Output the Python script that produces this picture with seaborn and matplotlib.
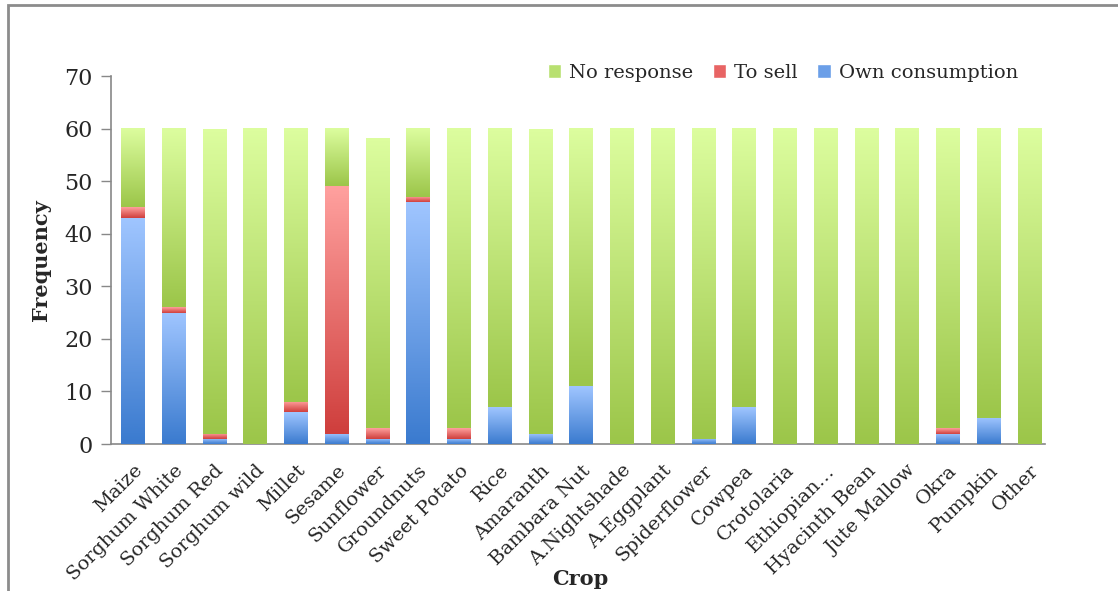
import numpy as np
import matplotlib
matplotlib.use("Agg")
import matplotlib.pyplot as plt
import matplotlib.patches as patches
from matplotlib.colors import LinearSegmentedColormap
import seaborn as sns

crops = ["Maize", "Sorghum White", "Sorghum Red", "Sorghum wild", "Millet", "Sesame",
         "Sunflower", "Groundnuts", "Sweet Potato", "Rice", "Amaranth", "Bambara Nut",
         "A.Nightshade", "A.Eggplant", "Spiderflower", "Cowpea", "Crotolaria",
         "Ethiopian\u2026", "Hyacinth Bean", "Jute Mallow", "Okra", "Pumpkin", "Other"]
own_consumption = [43, 25, 1, 0, 6, 2, 1, 46, 1, 7, 2, 11, 0, 0, 1, 7, 0, 0, 0, 0, 2, 5, 0]
to_sell = [2, 1, 1, 0, 2, 47, 2, 1, 2, 0, 0, 0, 0, 0, 0, 0, 0, 0, 0, 0, 1, 0, 0]
totals = [60, 60, 60, 60, 60, 60, 58, 60, 60, 60, 60, 60, 60, 60, 60, 60, 60, 60, 60, 60, 60, 60, 60]
no_response = [t - o - s for t, o, s in zip(totals, own_consumption, to_sell)]

# gradient colours (top, bottom) for each series
grad = {
    "No response": ("#dcfd9e", "#9cc64a"),
    "To sell": ("#ffa09e", "#cf3f3d"),
    "Own consumption": ("#9fc5ff", "#3b7bcf"),
}

sns.set_style("white")
plt.rcParams["font.family"] = ["DejaVu Serif"]

fig = plt.figure(figsize=(11.18, 5.91), dpi=100)
ax = fig.add_axes([0.0993, 0.2487, 0.8354, 0.6227])

own_sell = [o + s for o, s in zip(own_consumption, to_sell)]
width = 0.58
# stacked bars drawn back to front
sns.barplot(x=crops, y=totals, color=grad["No response"][1], width=width, ax=ax, zorder=2)
sns.barplot(x=crops, y=own_sell, color=grad["To sell"][1], width=width, ax=ax, zorder=2)
sns.barplot(x=crops, y=own_consumption, color=grad["Own consumption"][1], width=width, ax=ax, zorder=2)

# gradient fill of every segment
layers = [("Own consumption", [0] * len(crops), own_consumption),
          ("To sell", own_consumption, own_sell),
          ("No response", own_sell, totals)]
g = np.linspace(1, 0, 64).reshape(-1, 1)
for name, lows, highs in layers:
    cmap = LinearSegmentedColormap.from_list(name, [grad[name][1], grad[name][0]])
    for i, (lo, hi) in enumerate(zip(lows, highs)):
        if hi - lo <= 0:
            continue
        ax.imshow(g, extent=(i - width / 2, i + width / 2, lo, hi), aspect="auto",
                  cmap=cmap, vmin=0, vmax=1, zorder=3, interpolation="bicubic")

ax.set_xlim(-0.54, 22.38)
ax.set_ylim(0, 70)
ax.set_yticks(range(0, 71, 10))
ax.tick_params(axis="y", labelsize=16, left=True, length=7, color="#888888", width=1, pad=6)
ax.tick_params(axis="x", bottom=False, labelsize=14, pad=9)
plt.setp(ax.get_xticklabels(), rotation=45, ha="right", rotation_mode="anchor")
for s in ["top", "right"]:
    ax.spines[s].set_visible(False)
for s in ["left", "bottom"]:
    ax.spines[s].set_color("#888888")
    ax.spines[s].set_linewidth(1.2)

ax.set_ylabel("Frequency", fontsize=15, fontweight="bold", labelpad=10)
ax.set_xlabel("")
fig.text(0.519, 0.004, "Crop", ha="center", va="bottom", fontsize=15, fontweight="bold")

handles = [patches.Patch(facecolor="#b8e070", label="No response"),
           patches.Patch(facecolor="#e86464", label="To sell"),
           patches.Patch(facecolor="#6b9fe8", label="Own consumption")]
fig.legend(handles=handles, loc="center right", bbox_to_anchor=(0.926, 0.877), ncol=3,
           frameon=False, fontsize=14, handlelength=0.7, handleheight=0.7,
           handletextpad=0.4, columnspacing=1.0)

# outer chart border
fig.add_artist(patches.Rectangle((8 / 1118, -0.05), 1.2, 1.05 - 5 / 591,
                                 transform=fig.transFigure, fill=False,
                                 edgecolor="#8c8c8c", linewidth=2))

fig.savefig("out.png", dpi=100)
